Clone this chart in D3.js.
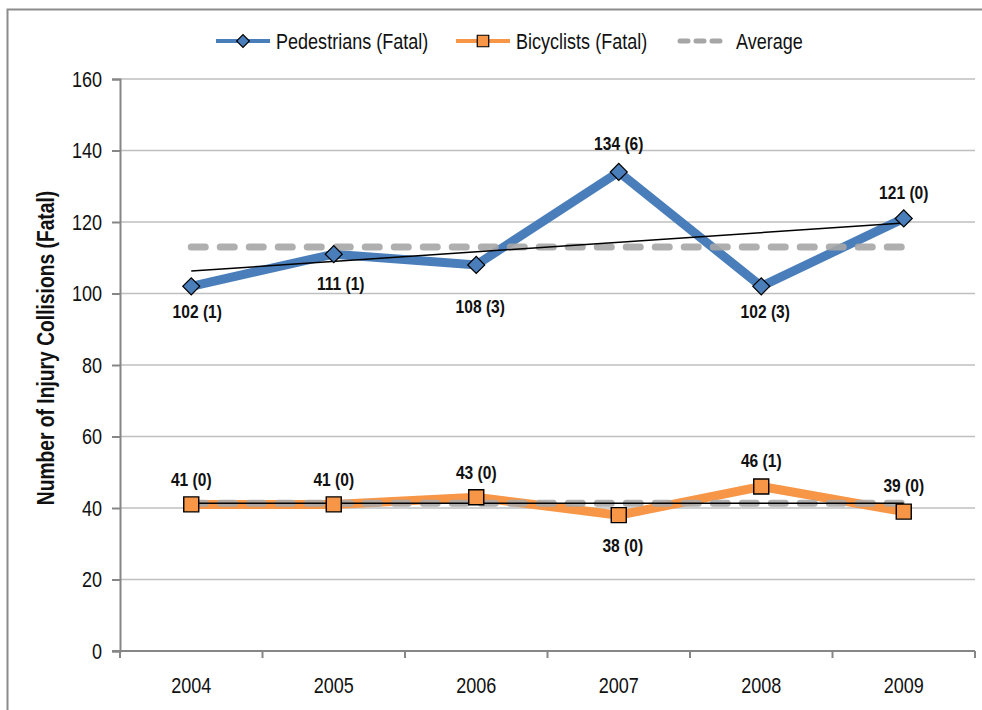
<!DOCTYPE html>
<html>
<head>
<meta charset="utf-8">
<script src="https://cdn.jsdelivr.net/npm/d3@7"></script>
<style>
  body { margin: 0; background: #fff; }
  text { font-family: "Liberation Sans", Arial, sans-serif; }
</style>
</head>
<body>
<div id="chart"></div>
<script>
// chart data
const years = ["2004", "2005", "2006", "2007", "2008", "2009"];
const pedestrians = [102, 111, 108, 134, 102, 121];
const pedestriansFatal = [1, 1, 3, 6, 3, 0];
const bicyclists = [41, 41, 43, 38, 46, 39];
const bicyclistsFatal = [0, 0, 0, 0, 1, 0];
const yTicks = [0, 20, 40, 60, 80, 100, 120, 140, 160];

// label placement (px offsets from the point), kept apart from the data
const pedLabelShift = [[6, 25], [7, 29], [4, 41], [0, -29], [4, 25], [0, -26]];
const bikeLabelShift = [[0, -25], [0, -25], [0, -25], [4, 30], [0, -26], [0, -26]];

const width = 982, height = 710;
const plotLeft = 120, plotRight = 975, plotTop = 79, plotBottom = 651;
const squeeze = 0.82; // narrow face look

const blue = "#4A7EBB", orange = "#F79646", grey = "#A6A6A6";

// squeeze text horizontally around its anchor point
function narrow(sel, extra) {
  sel.each(function() {
    const t = d3.select(this);
    const tx = +t.attr("x") || 0, ty = +t.attr("y") || 0;
    t.attr("x", null).attr("y", null)
      .attr("transform", `translate(${tx},${ty}) ${extra || ""} scale(${squeeze},1)`);
  });
}

const svg = d3.select("#chart").append("svg")
  .attr("width", width)
  .attr("height", height);

// outer chart border
svg.append("rect")
  .attr("x", 7.5).attr("y", 9.5)
  .attr("width", 1000).attr("height", 720)
  .attr("fill", "none")
  .attr("stroke", "#8C8C8C")
  .attr("stroke-width", 2);

const x = d3.scaleBand().domain(years).range([plotLeft, plotRight]);
const cx = d => x(d) + x.bandwidth() / 2;
const y = d3.scaleLinear().domain([0, 160]).range([plotBottom, plotTop]);

// gridlines
svg.append("g")
  .selectAll("line")
  .data(yTicks.filter(t => t > 0))
  .join("line")
  .attr("x1", plotLeft).attr("x2", plotRight)
  .attr("y1", d => y(d)).attr("y2", d => y(d))
  .attr("stroke", "#BFBFBF")
  .attr("stroke-width", 1.5);

// y axis
const yAxis = svg.append("g")
  .attr("transform", `translate(${plotLeft},0)`)
  .call(d3.axisLeft(y).tickValues(yTicks).tickSize(8).tickPadding(10));
yAxis.select(".domain").attr("stroke", "#868686").attr("stroke-width", 2);
yAxis.selectAll(".tick line").attr("stroke", "#868686").attr("stroke-width", 2);
yAxis.selectAll(".tick text")
  .attr("font-size", 22)
  .attr("fill", "#111")
  .call(narrow);

// x axis: labels centred on bands, ticks between categories
const xAxis = svg.append("g")
  .attr("transform", `translate(0,${plotBottom})`)
  .call(d3.axisBottom(x).tickSize(0).tickPadding(26));
xAxis.select(".domain").remove();
xAxis.selectAll(".tick text")
  .attr("font-size", 22)
  .attr("fill", "#111")
  .call(narrow);
svg.selectAll("g").attr("font-family", null).attr("font-size", null);

svg.append("line")
  .attr("x1", plotLeft - 8).attr("x2", plotRight)
  .attr("y1", plotBottom).attr("y2", plotBottom)
  .attr("stroke", "#868686").attr("stroke-width", 2);
svg.append("g")
  .selectAll("line")
  .data(years.map(d => x(d)).concat([plotRight]))
  .join("line")
  .attr("x1", d => d).attr("x2", d => d)
  .attr("y1", plotBottom).attr("y2", plotBottom + 7)
  .attr("stroke", "#868686").attr("stroke-width", 2);

// y axis title
svg.append("text")
  .attr("x", 54).attr("y", (plotTop + plotBottom) / 2 - 17)
  .attr("text-anchor", "middle")
  .attr("font-size", 23.5)
  .attr("font-weight", "bold")
  .attr("fill", "#111")
  .text("Number of Injury Collisions (Fatal)")
  .call(narrow, "rotate(-90)");

// series lines
const line = d3.line().x((d, i) => cx(years[i])).y(d => y(d));

svg.append("path")
  .datum(pedestrians)
  .attr("d", line)
  .attr("fill", "none")
  .attr("stroke", blue)
  .attr("stroke-width", 9);

svg.append("path")
  .datum(bicyclists)
  .attr("d", line)
  .attr("fill", "none")
  .attr("stroke", orange)
  .attr("stroke-width", 9);

// average lines (dashed)
[pedestrians, bicyclists].forEach(series => {
  const avg = d3.mean(series);
  svg.append("line")
    .attr("x1", cx(years[0])).attr("x2", cx(years[years.length - 1]))
    .attr("y1", y(avg)).attr("y2", y(avg))
    .attr("stroke", grey)
    .attr("stroke-opacity", 0.9)
    .attr("stroke-width", 7)
    .attr("stroke-dasharray", "14,15")
    .attr("stroke-linecap", "round");
});

// linear trend lines
[pedestrians, bicyclists].forEach(series => {
  const xs = series.map((d, i) => i);
  const mx = d3.mean(xs), my = d3.mean(series);
  const slope = d3.sum(xs, (v, i) => (v - mx) * (series[i] - my)) / d3.sum(xs, v => (v - mx) * (v - mx));
  const first = my - slope * mx;
  const last = first + slope * (series.length - 1);
  svg.append("line")
    .attr("x1", cx(years[0])).attr("x2", cx(years[years.length - 1]))
    .attr("y1", y(first)).attr("y2", y(last))
    .attr("stroke", "#000")
    .attr("stroke-width", 1.5);
});

// markers
const diamond = d3.symbol().type(d3.symbolSquare).size(144);
svg.append("g")
  .selectAll("path")
  .data(pedestrians)
  .join("path")
  .attr("d", diamond)
  .attr("transform", (d, i) => `translate(${cx(years[i])},${y(d)}) rotate(45)`)
  .attr("fill", blue)
  .attr("stroke", "#000")
  .attr("stroke-width", 1.2);

const square = d3.symbol().type(d3.symbolSquare).size(225);
svg.append("g")
  .selectAll("path")
  .data(bicyclists)
  .join("path")
  .attr("d", square)
  .attr("transform", (d, i) => `translate(${cx(years[i])},${y(d)})`)
  .attr("fill", orange)
  .attr("stroke", "#000")
  .attr("stroke-width", 1.4);

// data labels
function labels(series, fatal, shift) {
  svg.append("g")
    .selectAll("text")
    .data(series)
    .join("text")
    .attr("x", (d, i) => cx(years[i]) + shift[i][0])
    .attr("y", (d, i) => y(d) + shift[i][1])
    .attr("dy", "0.35em")
    .attr("text-anchor", "middle")
    .attr("font-size", 19)
    .attr("font-weight", "bold")
    .attr("fill", "#111")
    .text((d, i) => `${d} (${fatal[i]})`)
    .call(narrow);
}
labels(pedestrians, pedestriansFatal, pedLabelShift);
labels(bicyclists, bicyclistsFatal, bikeLabelShift);

// legend
const legendY = 41;
const legend = svg.append("g");

legend.append("line")
  .attr("x1", 216).attr("x2", 270).attr("y1", legendY).attr("y2", legendY)
  .attr("stroke", blue).attr("stroke-width", 4);
legend.append("path")
  .attr("d", d3.symbol().type(d3.symbolSquare).size(81))
  .attr("transform", `translate(243,${legendY}) rotate(45)`)
  .attr("fill", blue).attr("stroke", "#000").attr("stroke-width", 1.2);
legend.append("text")
  .attr("x", 276).attr("y", legendY).attr("dy", "0.35em")
  .attr("font-size", 22).attr("fill", "#111")
  .text("Pedestrians (Fatal)")
  .call(narrow);

legend.append("line")
  .attr("x1", 456).attr("x2", 510).attr("y1", legendY).attr("y2", legendY)
  .attr("stroke", orange).attr("stroke-width", 4);
legend.append("path")
  .attr("d", d3.symbol().type(d3.symbolSquare).size(132))
  .attr("transform", `translate(483,${legendY})`)
  .attr("fill", orange).attr("stroke", "#000").attr("stroke-width", 1.2);
legend.append("text")
  .attr("x", 516).attr("y", legendY).attr("dy", "0.35em")
  .attr("font-size", 22).attr("fill", "#111")
  .text("Bicyclists (Fatal)")
  .call(narrow);

legend.append("line")
  .attr("x1", 680).attr("x2", 724).attr("y1", legendY).attr("y2", legendY)
  .attr("stroke", grey).attr("stroke-width", 5)
  .attr("stroke-dasharray", "8,8")
  .attr("stroke-linecap", "round");
legend.append("text")
  .attr("x", 736).attr("y", legendY).attr("dy", "0.35em")
  .attr("font-size", 22).attr("fill", "#111")
  .text("Average")
  .call(narrow);
</script>
</body>
</html>
